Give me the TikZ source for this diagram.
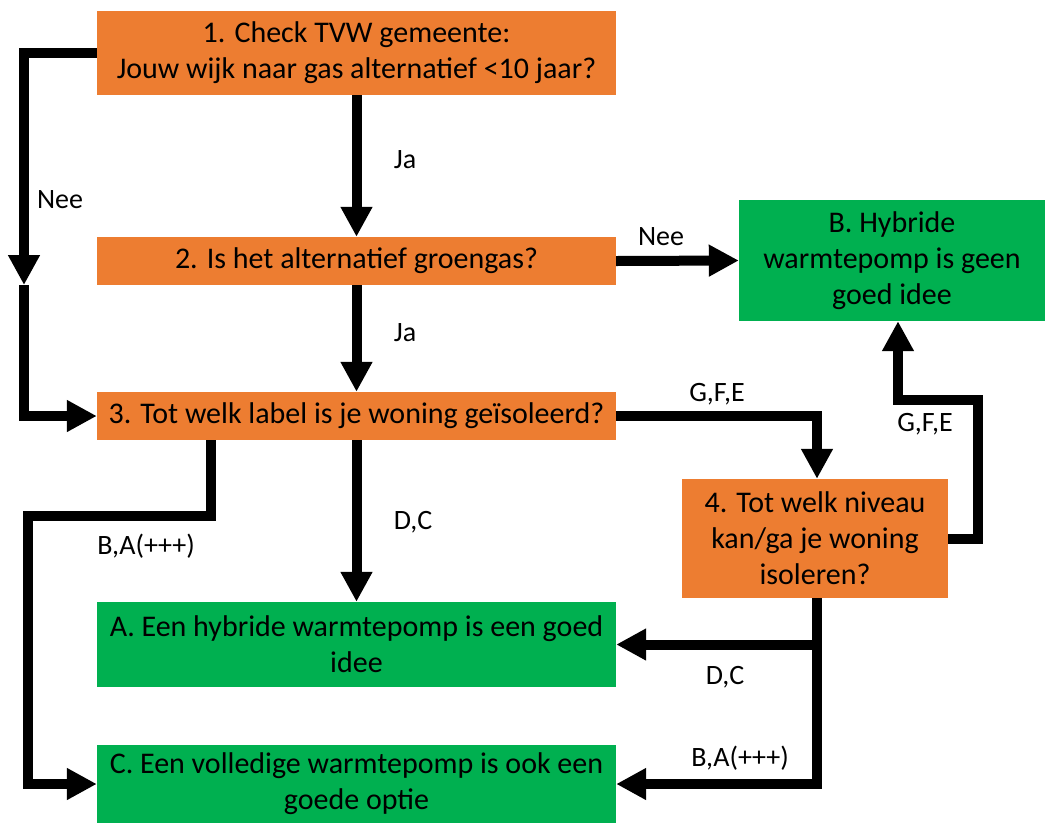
\documentclass[tikz,border=0pt]{standalone}
\usepackage{fontspec}
\setmainfont{Carlito}
\usepackage{xcolor}
\usetikzlibrary{arrows.meta}
\definecolor{boxorange}{HTML}{ED7D31}
\definecolor{boxgreen}{HTML}{00B050}

\begin{document}
\begin{tikzpicture}[
  x=1pt, y=-1pt,
  box/.style={rectangle, inner sep=0pt, align=center, font=\fontsize{30}{36}\selectfont},
  question/.style={box, fill=boxorange},
  answer/.style={box, fill=boxgreen},
  arrow/.style={-{Triangle[width=30pt, length=30pt]}, line width=10pt, line join=miter},
  lbl/.style={inner sep=0pt, font=\fontsize{28}{34}\selectfont}
]
  \useasboundingbox (0,0) rectangle (1045,823);

  % vragen
  \node[question, minimum width=519pt, minimum height=84pt] (check) at (356.5,53) {1. Check TVW gemeente:\\Jouw wijk naar gas alternatief <10 jaar?};
  \node[question, minimum width=519pt, minimum height=48pt] (groengas) at (356.5,261) {2. Is het alternatief groengas?};
  \node[question, minimum width=519pt, minimum height=48pt] (label) at (356.5,416) {3. Tot welk label is je woning ge\"isoleerd?};
  \node[question, minimum width=266pt, minimum height=119pt] (niveau) at (815,538.5) {4. Tot welk niveau\\kan/ga je woning\\isoleren?};

  % uitkomsten
  \node[answer, minimum width=519pt, minimum height=85pt] (hybride) at (356.5,644.5) {A. Een hybride warmtepomp is een goed\\idee};
  \node[answer, minimum width=306pt, minimum height=121pt] (geen) at (892,260.5) {B. Hybride\\warmtepomp is geen\\goed idee};
  \node[answer, minimum width=519pt, minimum height=78pt] (volledig) at (356.5,784) {C. Een volledige warmtepomp is ook een\\goede optie};

  \coordinate (neeknik) at (24,285);
  \coordinate (gfeknik) at (978,400);
  \coordinate (baknik) at (28,516);

  \draw[arrow] (check.south) -- (groengas.north);
  \draw[arrow] (check.west) -| (neeknik);
  \draw[arrow] (neeknik) |- (label.west);
  \draw[arrow] (groengas.east) -- (geen.west);
  \draw[arrow] (groengas.south) -- (label.north);
  \draw[arrow] (label.east) -| ([xshift=2pt]niveau.north);
  \draw[arrow] (label.south) -- (hybride.north);
  \draw[arrow] ([xshift=114pt]label.south west) |- (baknik) |- (volledig.west);
  \draw[arrow] (niveau.east) -| (gfeknik) -| ([xshift=6pt]geen.south);
  \draw[arrow] ([xshift=2pt]niveau.south) |- (volledig.east);
  \draw[arrow] ([xshift=2pt]niveau.south) |- (hybride.east);

  % labels bij de pijlen
  \node[lbl] (nee1) at (60,200) {Nee};
  \node[lbl] (ja1) at (405,160) {Ja};
  \node[lbl] (nee2) at (661,237) {Nee};
  \node[lbl] (ja2) at (405,333) {Ja};
  \node[lbl] (gfe1) at (717,394) {G,F,E};
  \node[lbl] (dc1) at (413,522) {D,C};
  \node[lbl] (gfe2) at (925,424) {G,F,E};
  \node[lbl] (ba1) at (146,546) {B,A(+++)};
  \node[lbl] (dc2) at (725,677) {D,C};
  \node[lbl] (ba2) at (740,758) {B,A(+++)};
\end{tikzpicture}
\end{document}
